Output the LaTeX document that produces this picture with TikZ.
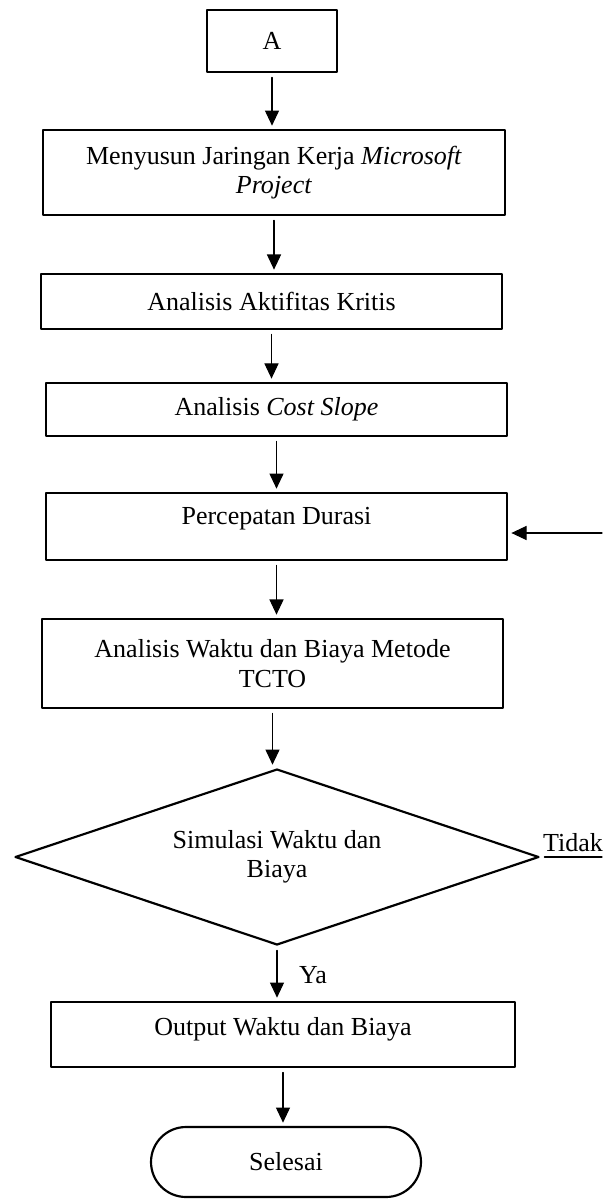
\documentclass[tikz,border=0pt]{standalone}
\usepackage{fontspec}
\setmainfont{Liberation Serif}
\usetikzlibrary{arrows.meta,shapes.geometric,shapes.misc}

\begin{document}
\begin{tikzpicture}[line cap=round,line join=round,>={Triangle[length=7pt,width=6.5pt]},x=0.4615pt,y=-0.4615pt,
        every node/.style={font=\fontsize{12}{13.5}\selectfont},
        box/.style={draw,line width=1pt,rectangle,inner sep=0pt,align=center},
        flow/.style={->,line width=0.5pt,shorten <=2pt,shorten >=1.5pt}]
                \useasboundingbox (0,0) rectangle (602,1200);
                \node[box,minimum width=60pt,minimum height=28.6pt] (a) at (272,41) {A};
                \node[box,minimum width=213.2pt,minimum height=39.2pt] (menyusun) at (274,172.5) {Menyusun Jaringan Kerja \textit{Microsoft}\\ \textit{Project}};
                \node[box,minimum width=212.8pt,minimum height=25.4pt] (kritis) at (271.5,301.5) {Analisis Aktifitas Kritis};
                \node[box,minimum width=212.8pt,minimum height=24.5pt] (slope) at (276.5,409.5) {Analisis \textit{Cost Slope}};
                \node[box,minimum width=212.8pt,minimum height=30.9pt,text depth=9.5pt] (durasi) at (276.5,526.5) {Percepatan Durasi};
                \node[box,minimum width=212.8pt,minimum height=41.1pt] (tcto) at (272.5,663.5) {Analisis Waktu dan Biaya Metode\\ TCTO};
                \node[diamond,aspect=3,draw,line width=1pt,inner sep=0pt,align=center,minimum width=241.8pt,minimum height=81.2pt] (simulasi) at (277,857) {Simulasi Waktu dan\\ Biaya};
                \node[box,minimum width=214.1pt,minimum height=30pt,text depth=7.2pt] (output) at (283,1034.5) {Output Waktu dan Biaya};
                \node[rounded rectangle,draw,line width=1pt,inner sep=0pt,minimum width=124.6pt,minimum height=32.3pt] (selesai) at (286,1162) {Selesai};
                % alur utama
                \draw[flow] (a.south) -- (a.south |- menyusun.north);
                \draw[flow] (menyusun.south) -- (menyusun.south |- kritis.north);
                \draw[flow] (kritis.south) -- (kritis.south |- slope.north);
                \draw[flow] (slope.south) -- (slope.south |- durasi.north);
                \draw[flow] (durasi.south) -- (durasi.south |- tcto.north);
                \draw[flow] (tcto.south) -- (tcto.south |- simulasi.north);
                \draw[flow] (simulasi.south) -- (simulasi.south |- output.north);
                \draw[flow] (output.south) -- (output.south |- selesai.north);
                % cabang tidak
                \coordinate (ujung) at (602,857);
                \coordinate (balik) at (602,533);
                \draw[line width=0.5pt,shorten <=2pt] (simulasi.east) -- (ujung);
                \draw[flow,shorten <=0pt] (balik) -- (balik -| durasi.east);
                \node (tidak) at (573,843) {Tidak};
                \node (ya) at (313,975) {Ya};
\end{tikzpicture}
\end{document}
